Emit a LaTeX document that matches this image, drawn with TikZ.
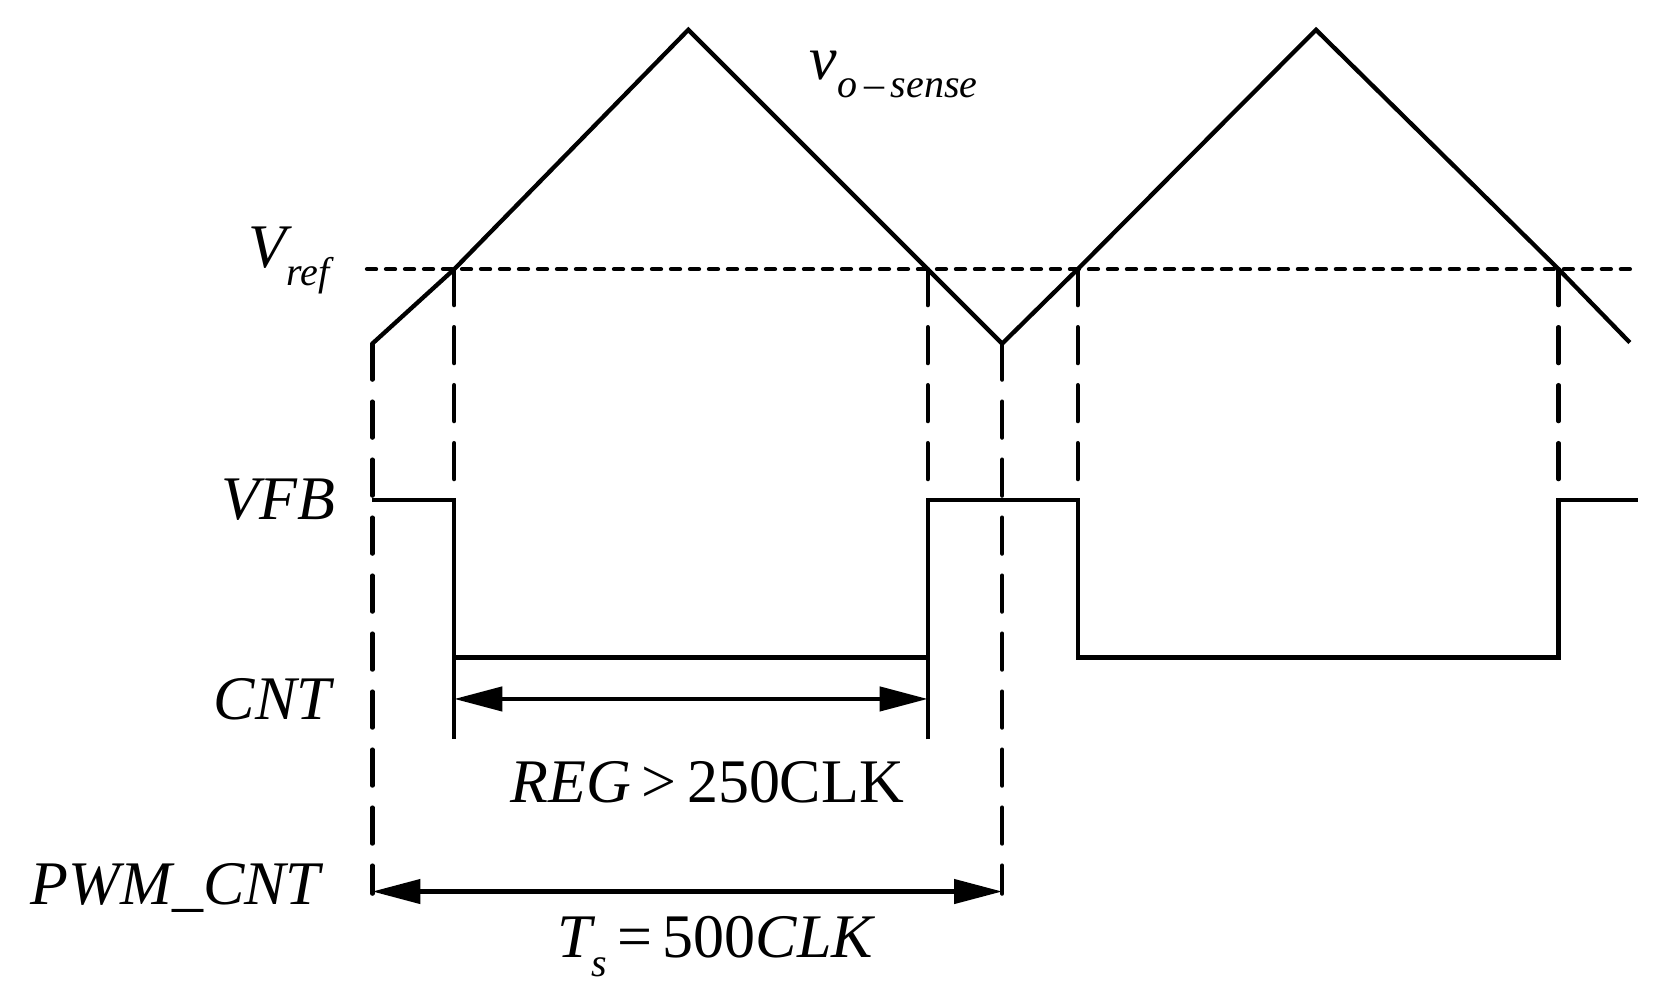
\documentclass[tikz,border=0pt]{standalone}
\usepackage{fontspec}
\setmainfont{Liberation Serif}
\usetikzlibrary{arrows.meta}
\newcommand{\lowsub}[1]{\raisebox{-0.3em}{\fontsize{40}{44}\selectfont #1}}
\tikzset{
  wave/.style={line width=4.3pt, line join=miter},
  guide/.style={line width=4.3pt, dash pattern=on 36pt off 22pt, line cap=round},
  ref/.style={line width=4.3pt, dash pattern=on 9pt off 10pt, line cap=round},
  span/.style={line width=4.3pt, {Triangle[length=48pt,width=24pt]}-{Triangle[length=48pt,width=24pt]}},
  lbl/.style={font=\fontsize{62}{70}\selectfont\itshape}
}
\begin{document}
\begin{tikzpicture}[x=1.064pt,y=-1.064pt]
        \useasboundingbox (0,0) rectangle (1566,942);
        \coordinate (A0) at (350,323);
        \coordinate (A1) at (427,253);
        \coordinate (P1) at (647,28);
        \coordinate (A2) at (872,253);
        \coordinate (T1) at (942,323);
        \coordinate (A3) at (1013,253);
        \coordinate (P2) at (1237,28);
        \coordinate (A4) at (1465,253);
        \coordinate (E) at (1532,322);
        \draw [wave] (A0) -- (A1) -- (P1) -- (A2) -- (T1) -- (A3) -- (P2) -- (A4) -- (E);
        \draw [ref] (345,253) -- (1535,253);
        \node [lbl] (vref) at (272,245) {V\lowsub{ref}};
        \node [lbl] (vo) at (840,70) {v\lowsub{o\,\textendash\,sense}};
        \draw [guide] (A0) -- (350,840);
        \draw [guide] (T1) -- (942,840);
        \foreach \p/\x in {A1/427,A2/872,A3/1013,A4/1465}
            \draw [guide] (\p) -- (\x,470);
        \draw [wave] (350,470) -- (427,470) -- (427,695);
        \draw [wave] (427,618) -- (872,618);
        \draw [wave] (872,695) -- (872,470) -- (1013,470) -- (1013,618) -- (1465,618) -- (1465,470) -- (1540,470);
        \node [lbl] (vfb) at (262,470) {VFB};
        \node [lbl] (cnt) at (256,657) {CNT};
        \node [lbl] (pwm) at (165,835) {PWM\_CNT};
        \coordinate (R1) at (427,657);
        \coordinate (R2) at (872,657);
        \draw [span] (R1) -- (R2);
        \node [lbl] (reg) at (665,735) {REG\,\upshape{>}\,250CLK};
        \coordinate (S1) at (350,838);
        \coordinate (S2) at (942,838);
        \draw [span] (S1) -- (S2);
        \node [lbl] (ts) at (672,890) {T\lowsub{s}\,\upshape{=}\,500\itshape CLK};
\end{tikzpicture}
\end{document}
